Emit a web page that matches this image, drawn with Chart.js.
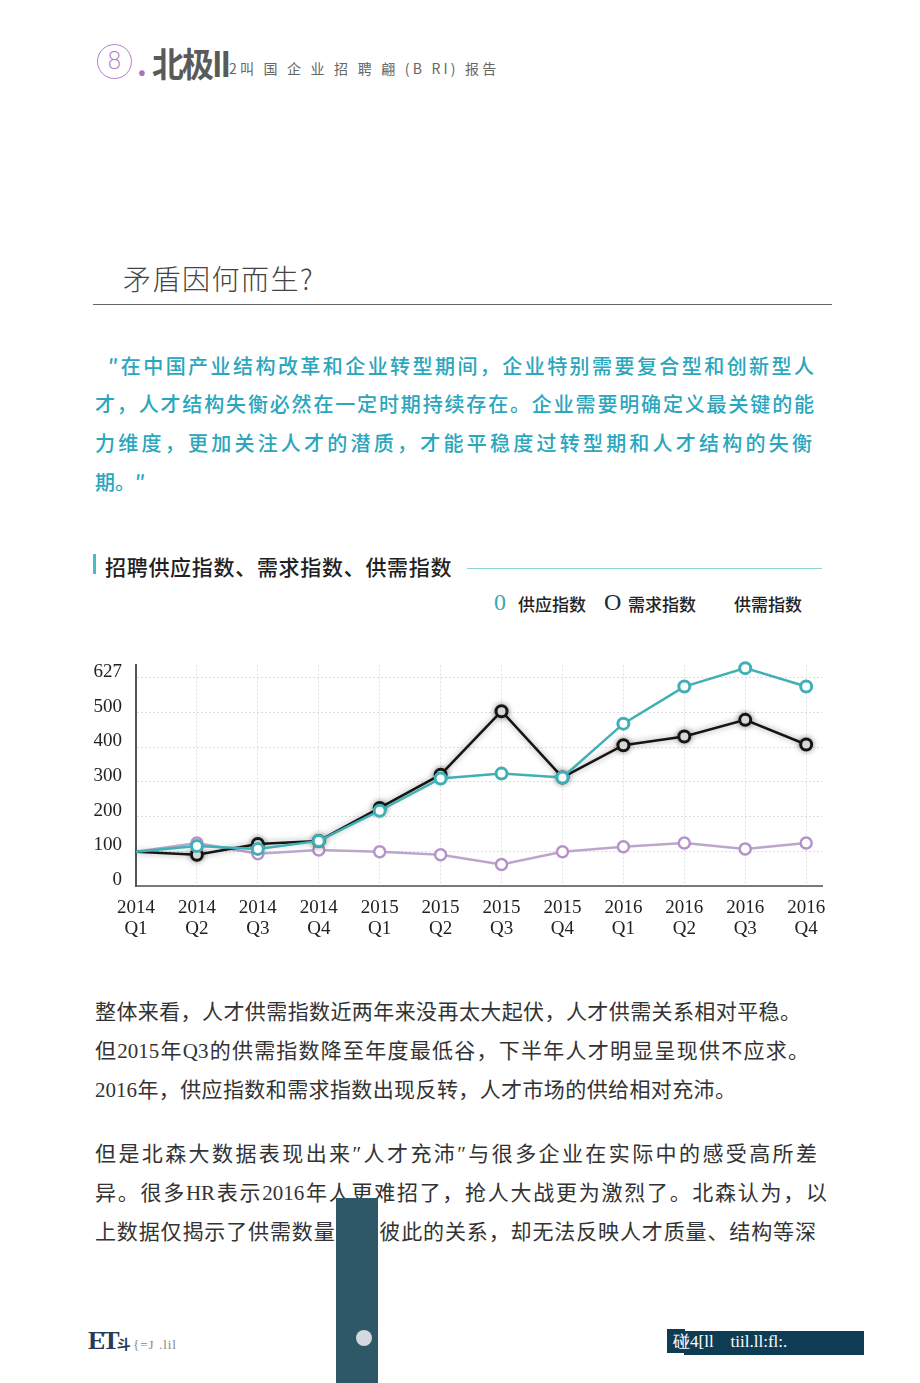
<!DOCTYPE html>
<html><head><meta charset="utf-8">
<script src="https://cdn.jsdelivr.net/npm/chart.js@4.4.1/dist/chart.umd.min.js"></script>
<style>
html,body{margin:0;padding:0;background:#fff;}
body{width:920px;height:1383px;position:relative;overflow:hidden;font-family:"Noto Sans CJK SC","Noto Sans",sans-serif;}
.abs{position:absolute;white-space:nowrap;}
.jl{position:absolute;text-align:justify;text-align-last:justify;white-space:normal;}
.quote{color:#2aa6bd;font-size:20px;font-weight:500;}
.body{color:#333;font-size:21px;font-family:"Liberation Serif","Noto Sans CJK SC",serif;}
</style></head>
<body>
<!-- header -->
<div class="abs" style="left:97px;top:44px;width:33px;height:33px;border:1.5px solid #b57fcb;border-radius:50%;color:#b57fcb;font-size:24px;line-height:33px;text-align:center;font-family:'DejaVu Sans';font-weight:300;">8</div>
<div class="abs" style="left:137px;top:46px;color:#a874c2;font-size:30px;font-weight:700;line-height:34px;">.</div>
<div class="abs" style="left:152px;top:38px;color:#5a5a5a;font-size:32px;font-weight:700;line-height:44px;letter-spacing:-2px;transform:scaleY(1.08);transform-origin:left top;">北极II</div>
<div class="abs" style="left:229px;top:58px;color:#666;font-size:14px;line-height:20px;letter-spacing:3.2px;background:transparent;z-index:2;">2叫 国 企 业 招 聘 翩 (B RI) 报告</div>

<div class="abs" style="left:123px;top:259px;color:#444;font-size:28px;font-weight:300;line-height:38px;letter-spacing:1.5px;">矛盾因何而生?</div>
<div class="abs" style="left:93px;top:304px;width:739px;height:1px;background:#666;"></div>

<div class="jl quote" style="left:108px;top:351px;width:706px;line-height:30px;">″在中国产业结构改革和企业转型期间，企业特别需要复合型和创新型人</div>
<div class="jl quote" style="left:95px;top:389px;width:719px;line-height:30px;">才，人才结构失衡必然在一定时期持续存在。企业需要明确定义最关键的能</div>
<div class="jl quote" style="left:95px;top:428px;width:717px;line-height:30px;">力维度，更加关注人才的潜质，才能平稳度过转型期和人才结构的失衡</div>
<div class="abs quote" style="left:95px;top:467px;line-height:30px;">期。″</div>

<div class="abs" style="left:93px;top:554px;width:3px;height:20px;background:#4fb7c6;"></div>
<div class="abs" style="left:105px;top:551px;color:#222;font-size:21px;font-weight:500;line-height:30px;letter-spacing:0.7px;">招聘供应指数、需求指数、供需指数</div>
<div class="abs" style="left:467px;top:568px;width:355px;height:1px;background:#8fd2d2;"></div>

<div class="abs" style="left:494px;top:588px;color:#3aa9b5;font-size:24px;line-height:28px;font-family:'Liberation Serif';">0</div>
<div class="abs" style="left:518px;top:592px;color:#222;font-size:17px;font-weight:500;line-height:24px;">供应指数</div>
<div class="abs" style="left:604px;top:588px;color:#1a2a35;font-size:24px;line-height:28px;font-family:'Liberation Serif';">O</div>
<div class="abs" style="left:628px;top:592px;color:#222;font-size:17px;font-weight:500;line-height:24px;">需求指数</div>
<div class="abs" style="left:734px;top:592px;color:#222;font-size:17px;font-weight:500;line-height:24px;">供需指数</div>

<div class="abs" style="left:80px;top:640px;width:760px;height:310px;"><canvas id="c" width="760" height="310"></canvas></div>

<!-- body text -->
<div class="jl body" style="left:95px;top:997px;width:706px;line-height:30px;">整体来看，人才供需指数近两年来没再太大起伏，人才供需关系相对平稳。</div>
<div class="jl body" style="left:95px;top:1036px;width:714px;line-height:30px;">但2015年Q3的供需指数降至年度最低谷，下半年人才明显呈现供不应求。</div>
<div class="jl body" style="left:95px;top:1075px;width:641px;line-height:30px;">2016年，供应指数和需求指数出现反转，人才市场的供给相对充沛。</div>
<div class="jl body" style="left:95px;top:1139px;width:722px;line-height:30px;">但是北森大数据表现出来″人才充沛″与很多企业在实际中的感受高所差</div>
<div class="jl body" style="left:95px;top:1178px;width:732px;line-height:30px;">异。很多HR表示2016年人更难招了，抢人大战更为激烈了。北森认为，以</div>
<div class="jl body" style="left:95px;top:1217px;width:721px;line-height:30px;">上数据仅揭示了供需数量之间彼此的关系，却无法反映人才质量、结构等深</div>

<div class="abs" style="left:336px;top:1198px;width:42px;height:185px;background:#2e5767;"></div>
<div class="abs" style="left:356px;top:1330px;width:16px;height:16px;border-radius:50%;background:#d3dadd;"></div>

<!-- footer -->
<div class="abs" style="left:88px;top:1326px;color:#243a58;font-size:26px;font-weight:700;line-height:30px;font-family:'Liberation Serif';letter-spacing:-3px;">ET<span style="font-size:14px;font-family:'Noto Sans CJK SC';">斗</span></div>
<div class="abs" style="left:133px;top:1336px;color:#888;font-size:13px;line-height:18px;letter-spacing:1px;font-family:'Liberation Serif';">{=J .lil</div>
<div class="abs" style="left:667px;top:1329px;width:18px;height:24px;background:#0e3c55;"></div>
<div class="abs" style="left:684px;top:1331px;width:180px;height:24px;background:#0e3c55;"></div>
<div class="abs" style="left:673px;top:1330px;color:#fff;font-size:17px;line-height:24px;font-family:'Liberation Serif';">碰4[ll&nbsp;&nbsp;&nbsp; tiil.ll:fl:.</div>

<script>
const quarters = [['2014','Q1'],['2014','Q2'],['2014','Q3'],['2014','Q4'],['2015','Q1'],['2015','Q2'],['2015','Q3'],['2015','Q4'],['2016','Q1'],['2016','Q2'],['2016','Q3'],['2016','Q4']];
const supplyIndex = [99,115,107,130,217,310,324,313,468,575,628,575];
const demandIndex = [99,90,121,130,225,321,504,313,406,431,479,408];
const supplyDemandIndex = [99,124,93,104,99,90,62,99,113,124,107,124];
const yTickValues = [0,100,200,300,400,500,600];
const yTickLabels = ['0','100','200','300','400','500','627'];

const toPts = arr => arr.map((v,i)=>({x:i,y:v}));
const radius = ctx => ctx.dataIndex === 0 ? 0 : 5.5;

const glow = {
  id:'glow',
  beforeDatasetDraw(chart,args){ if(args.index===1){chart.ctx.save();chart.ctx.shadowColor='rgba(0,0,0,0.4)';chart.ctx.shadowBlur=6;} },
  afterDatasetDraw(chart,args){ if(args.index===1){chart.ctx.restore();} }
};

new Chart(document.getElementById('c'),{
  type:'line',
  data:{datasets:[
    {label:'供应指数',data:toPts(supplyIndex),borderColor:'#3fb0b6',pointBorderColor:'#3fb0b6',pointBackgroundColor:'#fff',borderWidth:2.5,pointRadius:radius,pointBorderWidth:3,tension:0,clip:false},
    {label:'需求指数',data:toPts(demandIndex),borderColor:'#151515',pointBorderColor:'#151515',pointBackgroundColor:'#fff',borderWidth:2.5,pointRadius:radius,pointBorderWidth:3,tension:0,clip:false},
    {label:'供需指数',data:toPts(supplyDemandIndex),borderColor:'#bca6cc',pointBorderColor:'#b592c9',pointBackgroundColor:'#fff',borderWidth:2.5,pointRadius:radius,pointBorderWidth:2.5,tension:0,clip:false}
  ]},
  options:{
    responsive:false,animation:false,
    layout:{padding:{top:20,right:18,left:0,bottom:0}},
    plugins:{legend:{display:false},tooltip:{enabled:false}},
    events:[],
    scales:{
      x:{type:'linear',min:0,max:11.26,
        afterBuildTicks:s=>{s.ticks=quarters.map((q,i)=>({value:i}));},
        afterFit:s=>{s.height=64;},
        ticks:{callback:(v)=>quarters[v],padding:12,color:'#222',font:{family:'Liberation Serif',size:19,lineHeight:1.08},maxRotation:0,autoSkip:false},
        grid:{color:'#e2e2e2',drawTicks:false},
        border:{color:'#7a7a7a',width:2,dash:[2,2]}
      },
      y:{min:0,max:636,
        afterBuildTicks:s=>{s.ticks=yTickValues.map(v=>({value:v}));},
        afterFit:s=>{s.width=56;},
        ticks:{callback:(v,i)=>yTickLabels[i],padding:14,labelOffset:-6,color:'#222',font:{family:'Liberation Serif',size:19}},
        grid:{color:'#dcdcdc',drawTicks:false},
        border:{color:'#555',width:2,dash:[2,2]}
      }
    }
  },
  plugins:[glow]
});
</script>
</body></html>
